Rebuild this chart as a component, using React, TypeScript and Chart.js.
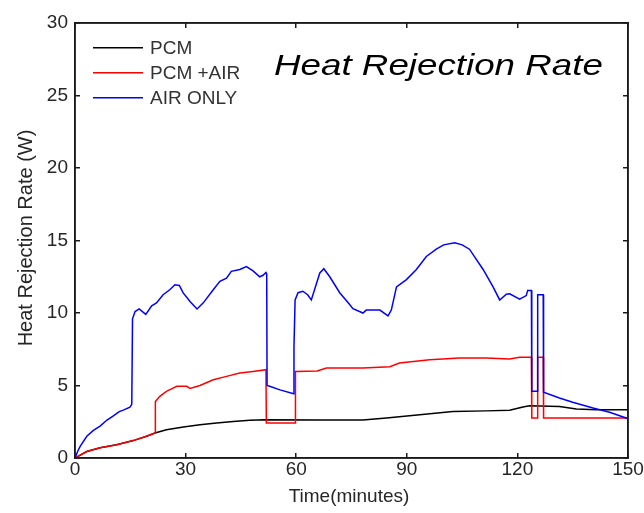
import { useEffect, useRef } from "react";
import { Chart, registerables } from "chart.js";

Chart.register(...registerables);

const xTickStep = 30;
const yTickStep = 5;
const xRange = [0, 150];
const yRange = [0, 30];
const seriesNames = ["PCM", "PCM +AIR", "AIR ONLY"];
const seriesColors = ["#000000", "#ff0000", "#0000ff"];
const chartTitle = "Heat Rejection Rate";
const xTitle = "Time(minutes)";
const yTitle = "Heat Rejection Rate (W)";

const pcmTime = [0, 3.2, 6.8, 11.3, 15.8, 19.4, 21.7, 24.8, 29.4, 33.9, 38.4, 42.9, 47.4, 51.4, 66.4, 78.1, 84.5, 93.5, 102.5, 111.5, 117.9, 121.5, 123.3, 131.4, 136, 141.4, 150];
const pcmRate = [0, 0.45, 0.7, 0.92, 1.2, 1.5, 1.72, 1.95, 2.14, 2.3, 2.41, 2.52, 2.6, 2.64, 2.62, 2.62, 2.76, 2.99, 3.2, 3.25, 3.3, 3.52, 3.6, 3.55, 3.38, 3.33, 3.33];

const pcmAirTime = [0, 3.2, 6.8, 11.3, 15.8, 19.4, 21.7, 21.8, 23, 24.8, 27.6, 30.3, 31.2, 33.9, 37.5, 41.1, 44.7, 48.3, 51.8, 51.9, 59.7, 59.8, 65.7, 68.2, 78.1, 85.4, 88, 96.2, 104.3, 111.5, 117.9, 120.6, 123.8, 123.9, 125.4, 125.5, 127.0, 127.1, 150];
const pcmAirRate = [0, 0.45, 0.7, 0.92, 1.2, 1.5, 1.72, 3.9, 4.25, 4.6, 4.94, 4.94, 4.8, 5.0, 5.4, 5.63, 5.86, 5.97, 6.09, 2.41, 2.41, 5.97, 6.0, 6.2, 6.2, 6.3, 6.55, 6.78, 6.9, 6.9, 6.83, 6.94, 6.94, 2.76, 2.76, 6.94, 6.94, 2.76, 2.76];

const airTime = [0, 0.8, 1.4, 3.2, 5, 6.8, 8.6, 10.4, 12, 13.1, 14.9, 15.4, 15.6, 16.3, 17.4, 19.2, 20.8, 22.1, 23.9, 25.7, 27.1, 28.3, 29.3, 31.2, 33.1, 34.8, 37.5, 39.3, 41.1, 42.4, 44.7, 46.5, 48.3, 50.1, 51, 51.8, 52, 52.1, 52.8, 55.6, 59.3, 59.4, 59.7, 60.5, 61.8, 63.1, 64.1, 66.4, 67.5, 69.1, 71.8, 74.1, 75.4, 78.1, 79, 82.7, 84.9, 85.8, 87.2, 89.9, 92.6, 95.3, 98, 100, 103, 105, 107, 110.7, 113.4, 115.2, 117, 117.9, 120.6, 122.4, 122.8, 123.8, 123.9, 125.4, 125.5, 127.0, 127.1, 131.4, 135, 140.5, 145, 149.5, 150];
const airRate = [0, 0.5, 0.8, 1.5, 1.9, 2.2, 2.6, 2.9, 3.2, 3.3, 3.5, 3.7, 9.6, 10.1, 10.28, 9.9, 10.5, 10.7, 11.26, 11.6, 11.95, 11.9, 11.4, 10.8, 10.28, 10.7, 11.6, 12.18, 12.4, 12.87, 13.0, 13.2, 12.9, 12.5, 12.6, 12.8, 12.7, 5.0, 4.95, 4.7, 4.43, 7.7, 10.9, 11.4, 11.5, 11.26, 10.9, 12.76, 13.05, 12.5, 11.4, 10.7, 10.3, 10.0, 10.2, 10.2, 9.8, 10.2, 11.8, 12.3, 13.0, 13.9, 14.4, 14.7, 14.85, 14.7, 14.4, 13.0, 11.8, 10.9, 11.3, 11.33, 10.96, 11.2, 11.56, 11.56, 4.6, 4.6, 11.26, 11.26, 4.53, 4.14, 3.85, 3.45, 3.15, 2.76, 2.73];

const toPoints = (t: number[], v: number[]) => t.map((x, i) => ({ x, y: v[i] }));

const FONT = "'Liberation Sans', Arial, sans-serif";

const decorPlugin = {
  id: "decor",
  afterDraw(chart: any) {
    const ctx: CanvasRenderingContext2D = chart.ctx;
    const ca = chart.chartArea;
    ctx.save();
    // frame (on top of everything)
    ctx.strokeStyle = "#1a1a1a";
    ctx.lineWidth = 1.5;
    ctx.strokeRect(ca.left, ca.top, ca.right - ca.left, ca.bottom - ca.top);

    // title
    ctx.fillStyle = "#000";
    ctx.font = `italic 30px ${FONT}`;
    ctx.textAlign = "left";
    ctx.textBaseline = "alphabetic";
    ctx.save();
    ctx.translate(274, 75);
    ctx.scale(1.225, 1);
    ctx.fillText(chartTitle, 0, 0);
    ctx.restore();

    // legend
    ctx.font = `19px ${FONT}`;
    ctx.textBaseline = "middle";
    const legendY = [48, 73, 98];
    seriesNames.forEach((name, i) => {
      ctx.fillStyle = seriesColors[i];
      ctx.fillRect(93, legendY[i] - 1, 50, 1.5);
      ctx.fillStyle = "#333";
      ctx.fillText(name, 150, legendY[i] + 1);
    });

    // axis titles
    ctx.fillStyle = "#262626";
    ctx.textAlign = "center";
    ctx.fillText(xTitle, 349, 497);
    ctx.save();
    ctx.translate(26, 238);
    ctx.rotate(-Math.PI / 2);
    ctx.font = `20px ${FONT}`;
    ctx.fillText(yTitle, 0, 0);
    ctx.restore();
    ctx.restore();
  },
};

export default function App() {
  const ref = useRef<HTMLCanvasElement | null>(null);
  useEffect(() => {
    if (!ref.current) return;
    const mk = (i: number, t: number[], v: number[], order: number) => ({
      label: seriesNames[i],
      data: toPoints(t, v),
      borderColor: seriesColors[i],
      backgroundColor: seriesColors[i],
      borderWidth: 1.5,
      pointRadius: 0,
      tension: 0,
      fill: false,
      order,
      xAxisID: "x",
      yAxisID: "y",
    });
    const grid = { display: true, drawOnChartArea: false, drawTicks: true, tickLength: -5, color: "#1a1a1a", lineWidth: 1.5 };
    const border = { display: true, color: "#1a1a1a", width: 1.5 };
    const tickFont = { family: FONT, size: 19 };
    const noPad = (s: any) => { s.paddingLeft = 0; s.paddingRight = 0; s.paddingTop = 0; s.paddingBottom = 0; };
    const chart = new Chart(ref.current, {
      type: "line",
      data: {
        datasets: [
          mk(0, pcmTime, pcmRate, 3),
          mk(1, pcmAirTime, pcmAirRate, 2),
          mk(2, airTime, airRate, 1),
        ],
      },
      options: {
        animation: false,
        responsive: false,
        devicePixelRatio: 1,
        layout: { padding: 0 },
        plugins: { legend: { display: false }, tooltip: { enabled: false }, title: { display: false } },
        scales: {
          x: {
            type: "linear",
            position: "bottom",
            min: xRange[0],
            max: xRange[1],
            grid,
            border,
            ticks: { stepSize: xTickStep, padding: 5, color: "#262626", font: tickFont, maxRotation: 0 },
            afterFit: (s: any) => { s.height = 55; noPad(s); },
          },
          x2: {
            type: "linear",
            position: "top",
            min: xRange[0],
            max: xRange[1],
            grid,
            border,
            ticks: { stepSize: xTickStep, display: false },
            afterFit: (s: any) => { s.height = 23; noPad(s); },
          },
          y: {
            type: "linear",
            position: "left",
            min: yRange[0],
            max: yRange[1],
            grid,
            border,
            ticks: { stepSize: yTickStep, padding: 12, color: "#262626", font: tickFont },
            afterFit: (s: any) => { s.width = 75; noPad(s); },
          },
          y2: {
            type: "linear",
            position: "right",
            min: yRange[0],
            max: yRange[1],
            grid,
            border,
            ticks: { stepSize: yTickStep, display: false },
            afterFit: (s: any) => { s.width = 16; noPad(s); },
          },
        },
      },
      plugins: [decorPlugin],
    });
    return () => chart.destroy();
  }, []);
  return (
    <div style={{ position: "absolute", left: 0, top: 0, width: 644, height: 513, background: "#fff" }}>
      <canvas ref={ref} width={644} height={513} style={{ width: 644, height: 513, display: "block" }} />
    </div>
  );
}
